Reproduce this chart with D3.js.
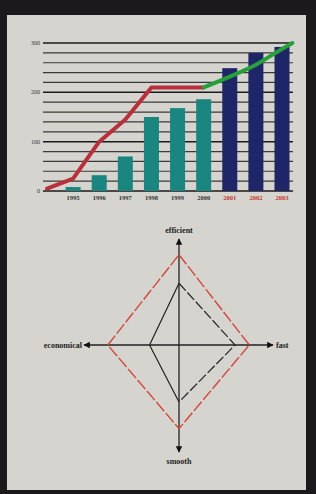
<!DOCTYPE html>
<html><head><meta charset="utf-8">
<script src="https://cdn.jsdelivr.net/npm/d3@7"></script>
<style>html,body{margin:0;padding:0;background:#1b191b;}svg{display:block;}</style>
</head><body>
<script>
// ---- data ----
const years = ["1995","1996","1997","1998","1999","2000","2001","2002","2003"];
const barValues = [8, 32, 70, 150, 168, 186, 249, 280, 292];
const forecastYears = ["2001","2002","2003"];
const yTicks = [0, 100, 200, 300];
const gridValues = d3.range(0, 301, 20);
// line: index -1 is the point before 1995
const redLineIdx = [-1, 0, 1, 2, 3, 4, 5];
const redLineVals = [5, 25, 100, 145, 210, 210, 210];
const greenLineIdx = [5, 6, 7, 8, 8.4];
const greenLineVals = [210, 232, 256, 288, 300];

const radarAxes = ["efficient", "fast", "smooth", "economical"];
const radarOuter = [9.5, 7.4, 8.8, 7.5];
const radarInner = [6.5, 5.9, 6.0, 3.1];

const W = 316, H = 494;
const svg = d3.select("body").append("svg").attr("width", W).attr("height", H);
svg.append("rect").attr("width", W).attr("height", H).attr("fill", "#1b191b");
svg.append("rect").attr("x", 7).attr("y", 15).attr("width", 299).attr("height", 475).attr("fill", "#d6d4cf");

// ---- bar chart ----
const x = d3.scaleLinear().domain([-1, 8]).range([47, 282]);
const bw = 15;
const y = d3.scaleLinear().domain([0, 300]).range([191, 43]);
const g = svg.append("g");
g.selectAll("line.grid").data(gridValues).join("line")
  .attr("x1", 43).attr("x2", 293)
  .attr("y1", d => y(d)).attr("y2", d => y(d))
  .attr("stroke", d => d % 100 === 0 ? "#1a1a1a" : "#3a3a3a")
  .attr("stroke-width", d => d % 100 === 0 ? 1.5 : 1.2);
g.selectAll("text.ytick").data(yTicks).join("text")
  .attr("x", 40).attr("y", d => y(d) + 2).attr("text-anchor", "end")
  .attr("font-family", "Liberation Serif, serif").attr("font-size", 6).attr("fill", "#333")
  .text(d => d);
g.selectAll("rect.bar").data(barValues).join("rect")
  .attr("x", (d, i) => x(i) - bw / 2).attr("width", bw)
  .attr("y", d => y(d)).attr("height", d => y(0) - y(d))
  .attr("fill", (d, i) => forecastYears.includes(years[i]) ? "#1f2667" : "#1b8580");
g.selectAll("text.year").data(years).join("text")
  .attr("x", (d, i) => x(i)).attr("y", 200).attr("text-anchor", "middle")
  .attr("font-family", "Liberation Serif, serif").attr("font-size", 6.5).attr("font-weight", "bold")
  .attr("fill", d => forecastYears.includes(d) ? "#c8302a" : "#333")
  .text(d => d);
const lineGen = d3.line().x(d => x(d[0])).y(d => y(d[1]));
g.append("path").datum(redLineIdx.map((v, i) => [v, redLineVals[i]]))
  .attr("d", lineGen).attr("fill", "none").attr("stroke", "#b8303c")
  .attr("stroke-width", 4).attr("stroke-linejoin", "round").attr("stroke-linecap", "round");
g.append("path").datum(greenLineIdx.map((v, i) => [v, greenLineVals[i]]))
  .attr("d", lineGen.curve(d3.curveMonotoneX)).attr("fill", "none").attr("stroke", "#27a03c")
  .attr("stroke-width", 4).attr("stroke-linecap", "round");

// ---- radar ----
const cx = 179, cy = 345;
const r = d3.scaleLinear().domain([0, 10]).range([0, 95]);
const angles = [-Math.PI / 2, 0, Math.PI / 2, Math.PI];
const pt = (v, i) => [cx + r(v) * Math.cos(angles[i]), cy + r(v) * Math.sin(angles[i])];
const rg = svg.append("g");
const defs = svg.append("defs");
defs.append("marker").attr("id", "arr").attr("viewBox", "0 0 10 10").attr("refX", 9).attr("refY", 5)
  .attr("markerWidth", 5).attr("markerHeight", 5).attr("orient", "auto")
  .append("path").attr("d", "M0,0L10,5L0,10z").attr("fill", "#111");
// axes
rg.append("line").attr("x1", cx).attr("y1", cy).attr("x2", cx).attr("y2", 239)
  .attr("stroke", "#222").attr("stroke-width", 1.3).attr("marker-end", "url(#arr)");
rg.append("line").attr("x1", cx).attr("y1", cy).attr("x2", cx).attr("y2", 452)
  .attr("stroke", "#222").attr("stroke-width", 1.3).attr("marker-end", "url(#arr)");
rg.append("line").attr("x1", cx).attr("y1", cy).attr("x2", 273)
  .attr("y2", cy).attr("stroke", "#222").attr("stroke-width", 1.3).attr("marker-end", "url(#arr)");
rg.append("line").attr("x1", cx).attr("y1", cy).attr("x2", 84)
  .attr("y2", cy).attr("stroke", "#222").attr("stroke-width", 1.3).attr("marker-end", "url(#arr)");
// outer (red dashed)
const outerPts = radarOuter.map(pt);
rg.append("path").attr("d", d3.line()(outerPts.concat([outerPts[0]])))
  .attr("fill", "none").attr("stroke", "#d2473a").attr("stroke-width", 1.4)
  .attr("stroke-dasharray", "12,2.5");
// inner (black): left half solid, right half dashed
const innerPts = radarInner.map(pt);
rg.append("path").attr("d", d3.line()([innerPts[2], innerPts[3], innerPts[0]]))
  .attr("fill", "none").attr("stroke", "#222").attr("stroke-width", 1.2);
rg.append("path").attr("d", d3.line()([innerPts[0], innerPts[1], innerPts[2]]))
  .attr("fill", "none").attr("stroke", "#222").attr("stroke-width", 1.2)
  .attr("stroke-dasharray", "10,2.5");
// labels
const lab = (t, xx, yy, anchor) => rg.append("text").attr("x", xx).attr("y", yy)
  .attr("text-anchor", anchor).attr("font-family", "Liberation Serif, serif")
  .attr("font-size", 8).attr("font-weight", "bold").attr("fill", "#222").text(t);
lab(radarAxes[0], cx, 233, "middle");
lab(radarAxes[1], 276, cy + 3, "start");
lab(radarAxes[2], cx, 464, "middle");
lab(radarAxes[3], 82, cy + 3, "end");
</script>
</body></html>
